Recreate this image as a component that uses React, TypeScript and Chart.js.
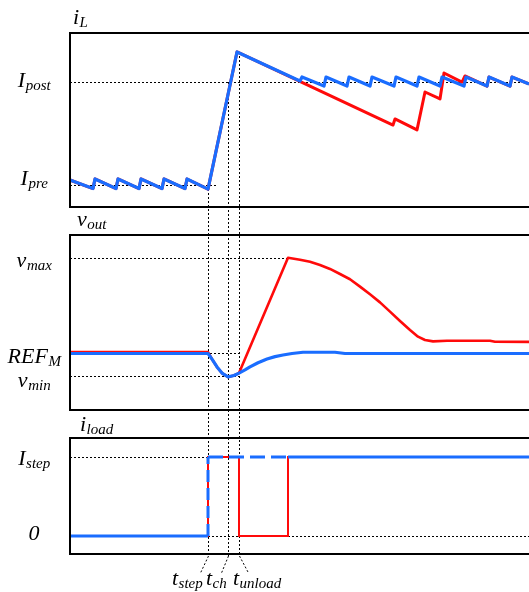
import React, { useEffect, useRef } from 'react';
import { Chart, registerables } from 'chart.js';

Chart.register(...registerables);

// ---------------- data (time in arbitrary units, 0 = left edge of the plots) ----------------
const T_MAX = 459;
const T_STEP = 138;
const T_CH = 158;
const T_UNLOAD = 169;

// Panel 1: inductor current i_L (relative units)
const I_PRE = 12.6;
const I_POST = 71.8;
const I_PEAK = 89.1;

const iLBlueTime = [0, 23, 25, 46, 48, 69, 71, 92, 94, 115, 117, 138, 167, 230, 232, 254, 256, 277, 279, 300, 302, 324, 326, 347, 349, 370, 372, 394, 396, 417, 419, 440, 442, 459];
const iLBlueValue = [15.5, 10.6, 16.1, 10.6, 16.1, 10.6, 16.1, 10.6, 16.1, 10.6, 16.1, 10.3, 89.1, 72.4, 74.7, 69.5, 74.7, 69.5, 74.7, 69.5, 74.7, 69.5, 74.7, 69.5, 74.7, 69.5, 74.7, 69.5, 74.7, 69.5, 74.7, 69.5, 74.7, 70.7];

const iLRedTime = [0, 23, 25, 46, 48, 69, 71, 92, 94, 115, 117, 138, 167, 323, 325, 347, 355, 370, 374, 392, 395, 417, 419, 440, 442, 459];
const iLRedValue = [15.5, 10.6, 16.1, 10.6, 16.1, 10.6, 16.1, 10.6, 16.1, 10.6, 16.1, 10.3, 89.1, 47.1, 50.6, 44.3, 66.1, 62.1, 77.0, 71.8, 75.3, 69.5, 74.7, 69.5, 74.7, 70.7];

// Panel 2: output voltage v_out (relative units)
const V_MAX = 86.9;
const REF_M = 32.6;
const V_MIN = 19.4;

const vOutBlueTime = [0, 138, 142, 147, 152, 158, 164, 169, 175, 180, 188, 197, 205, 213, 222, 233, 265, 275, 459];
const vOutBlueValue = [32.3, 32.3, 29.1, 24.6, 21.1, 18.9, 19.7, 21.1, 22.9, 24.6, 27.0, 29.1, 30.5, 31.4, 32.3, 33.0, 33.0, 32.3, 32.3];

const vOutRedTime = [0, 138, 142, 147, 152, 158, 164, 169, 218, 230, 240, 250, 260, 270, 280, 290, 300, 310, 320, 330, 340, 348, 355, 363, 377, 420, 425, 459];
const vOutRedValue = [33.1, 33.1, 29.1, 24.6, 21.1, 18.9, 19.7, 21.1, 87.0, 85.9, 84.7, 82.9, 80.6, 77.7, 74.7, 70.5, 66.1, 61.5, 56.2, 50.9, 45.7, 41.9, 40.0, 39.2, 39.6, 39.6, 39.0, 38.9];

// Panel 3: load current i_load (0 / I_step)
const I_ZERO = 0;
const I_STEP = 1;

const iLoadBlueTime = [0, 138, 138, 218, 459];
const iLoadBlueValue = [0, 0, 1, 1, 1];
const iLoadRedTime = [0, 138, 138, 169, 169, 218, 218, 459];
const iLoadRedValue = [0, 0, 1, 1, 0, 0, 1, 1];

// Tick labels
const iLTickValues = [I_POST, I_PRE];
const iLTickMain = ['I', 'I'];
const iLTickSub = ['post', 'pre'];
const vOutTickValues = [V_MAX, REF_M, V_MIN];
const vOutTickMain = ['v', 'REF', 'v'];
const vOutTickSub = ['max', 'M', 'min'];
const iLoadTickValues = [I_STEP, I_ZERO];
const iLoadTickMain = ['I', '0'];
const iLoadTickSub = ['step', ''];

const panelTitleMain = ['i', 'v', 'i'];
const panelTitleSub = ['L', 'out', 'load'];

const markerTimes = [T_STEP, T_CH, T_UNLOAD];
const markerTopValues = [I_PRE, I_POST, I_PEAK];
const markerMain = ['t', 't', 't'];
const markerSub = ['step', 'ch', 'unload'];

// ---------------- layout / style ----------------
const W = 529;
const H = 592;
const AREA_TOP = 33;
const AREA_BOTTOM = 554;
const PANELS = [
  { id: 'y1', top: 33, bottom: 207, lo: 0, hi: 100 },
  { id: 'y2', top: 235, bottom: 410, lo: 0, hi: 100 },
  { id: 'y3', top: 438, bottom: 554, lo: -0.228, hi: 1.2405 },
];
const BLUE = '#1a6dff';
const RED = '#ff0a0a';
const MAIN_FONT = 'italic 22px "Liberation Serif", "Times New Roman", serif';
const SUB_FONT = 'italic 15px "Liberation Serif", "Times New Roman", serif';
const SUB_DROP = 3;
const DOT = [2, 2];
const TICK_LABEL_CX = 34;
const TICK_DY = [[5, 0], [9, 10, 11], [8, 4]];
const TITLE_POS = [[73, 24], [77, 226], [80, 431]];
const MARKER_LABEL_X = [172, 206, 233];
const MARKER_LABEL_BASE = 585;
const MARKER_LINE_END = 556;
const MARKER_LEADER = [[-8, 573], [-7, 573], [9, 573]];

const H_GUIDES = [
  { axis: 'y1', value: I_POST, from: 0, to: T_MAX },
  { axis: 'y1', value: I_PRE, from: 0, to: 147 },
  { axis: 'y2', value: V_MAX, from: 0, to: 220 },
  { axis: 'y2', value: REF_M, from: 0, to: 170 },
  { axis: 'y2', value: V_MIN, from: 0, to: 170 },
  { axis: 'y3', value: I_STEP, from: 0, to: T_STEP + 1 },
  { axis: 'y3', value: I_ZERO, from: T_STEP, to: T_MAX },
];

function zip(t: number[], v: number[]) {
  return t.map((x, i) => ({ x, y: v[i] }));
}

function fullRange(p: { top: number; bottom: number; lo: number; hi: number }) {
  const ppu = (p.bottom - p.top) / (p.hi - p.lo);
  return {
    min: p.lo - (AREA_BOTTOM - p.bottom) / ppu,
    max: p.hi + (p.top - AREA_TOP) / ppu,
  };
}

function drawLabel(ctx: CanvasRenderingContext2D, main: string, sub: string, x: number, base: number, center: boolean) {
  ctx.font = MAIN_FONT;
  const wm = ctx.measureText(main).width;
  ctx.font = SUB_FONT;
  const ws = sub ? ctx.measureText(sub).width : 0;
  const sx = center ? x - (wm + ws) / 2 : x;
  ctx.textAlign = 'left';
  ctx.textBaseline = 'alphabetic';
  ctx.fillStyle = '#000';
  ctx.font = MAIN_FONT;
  ctx.fillText(main, sx, base);
  if (sub) {
    ctx.font = SUB_FONT;
    ctx.fillText(sub, sx + wm + 0.5, base + SUB_DROP);
  }
}

const timingPlugin = {
  id: 'timing',
  beforeDatasetsDraw(chart: any) {
    const { ctx, scales } = chart;
    const xs = scales.x;
    ctx.save();
    ctx.strokeStyle = '#000';
    ctx.lineWidth = 1;
    ctx.setLineDash(DOT);
    for (const g of H_GUIDES) {
      const y = Math.round(scales[g.axis].getPixelForValue(g.value)) + 0.5;
      ctx.beginPath();
      ctx.moveTo(Math.round(xs.getPixelForValue(g.from)), y);
      ctx.lineTo(Math.round(xs.getPixelForValue(g.to)), y);
      ctx.stroke();
    }
    markerTimes.forEach((t, i) => {
      const x = Math.round(xs.getPixelForValue(t)) + 0.5;
      const yTop = Math.round(scales.y1.getPixelForValue(markerTopValues[i]));
      ctx.beginPath();
      ctx.moveTo(x, yTop);
      ctx.lineTo(x, MARKER_LINE_END);
      ctx.stroke();
      ctx.beginPath();
      ctx.moveTo(x, MARKER_LINE_END);
      ctx.lineTo(x + MARKER_LEADER[i][0], MARKER_LEADER[i][1]);
      ctx.stroke();
    });
    ctx.restore();
  },
  afterDatasetsDraw(chart: any) {
    const { ctx, scales, chartArea } = chart;
    ctx.save();
    // panel frames
    ctx.strokeStyle = '#000';
    ctx.lineWidth = 2;
    ctx.setLineDash([]);
    for (const p of PANELS) {
      const yT = scales[p.id].getPixelForValue(p.hi);
      const yB = scales[p.id].getPixelForValue(p.lo);
      ctx.strokeRect(chartArea.left, yT, chartArea.right - chartArea.left + 4, yB - yT);
    }
    // tick labels
    const tickSets = [
      { axis: 'y1', values: iLTickValues, main: iLTickMain, sub: iLTickSub },
      { axis: 'y2', values: vOutTickValues, main: vOutTickMain, sub: vOutTickSub },
      { axis: 'y3', values: iLoadTickValues, main: iLoadTickMain, sub: iLoadTickSub },
    ];
    tickSets.forEach((s, k) => {
      s.values.forEach((v, i) => {
        const y = scales[s.axis].getPixelForValue(v);
        drawLabel(ctx, s.main[i], s.sub[i], TICK_LABEL_CX, y + TICK_DY[k][i], true);
      });
    });
    // panel titles
    panelTitleMain.forEach((m, i) => {
      drawLabel(ctx, m, panelTitleSub[i], TITLE_POS[i][0], TITLE_POS[i][1], false);
    });
    // marker labels
    markerMain.forEach((m, i) => {
      drawLabel(ctx, m, markerSub[i], MARKER_LABEL_X[i], MARKER_LABEL_BASE, false);
    });
    ctx.restore();
  },
};

export default function App() {
  const ref = useRef<HTMLCanvasElement | null>(null);

  useEffect(() => {
    if (!ref.current) return;
    const r1 = fullRange(PANELS[0]);
    const r2 = fullRange(PANELS[1]);
    const r3 = fullRange(PANELS[2]);
    const base = { pointRadius: 0, tension: 0, fill: false, borderJoinStyle: 'round' };
    const chart = new Chart(ref.current, {
      type: 'line',
      data: {
        datasets: [
          { ...base, label: 'iL blue', data: zip(iLBlueTime, iLBlueValue), yAxisID: 'y1', borderColor: BLUE, borderWidth: 3.2, order: 1 },
          { ...base, label: 'iL red', data: zip(iLRedTime, iLRedValue), yAxisID: 'y1', borderColor: RED, borderWidth: 3, order: 2 },
          { ...base, label: 'vout blue', data: zip(vOutBlueTime, vOutBlueValue), yAxisID: 'y2', borderColor: BLUE, borderWidth: 3.2, order: 1 },
          { ...base, label: 'vout red', data: zip(vOutRedTime, vOutRedValue), yAxisID: 'y2', borderColor: RED, borderWidth: 2.6, order: 2 },
          {
            ...base,
            label: 'iload blue',
            data: zip(iLoadBlueTime, iLoadBlueValue),
            yAxisID: 'y3',
            borderColor: BLUE,
            borderWidth: 3,
            borderJoinStyle: 'miter',
            order: 1,
            segment: {
              borderDash: (c: any) => (c.p0DataIndex === 1 ? [12, 6] : c.p0DataIndex === 2 ? [15, 6] : undefined),
            },
          },
          { ...base, label: 'iload red', data: zip(iLoadRedTime, iLoadRedValue), yAxisID: 'y3', borderColor: RED, borderWidth: 2, borderJoinStyle: 'miter', order: 2 },
        ] as any,
      },
      options: {
        animation: false,
        responsive: false,
        devicePixelRatio: 1,
        layout: { padding: { left: 70, top: AREA_TOP, right: 0, bottom: H - AREA_BOTTOM } },
        plugins: { legend: { display: false }, tooltip: { enabled: false } },
        events: [],
        scales: {
          x: { type: 'linear', min: 0, max: T_MAX, display: false },
          y1: { type: 'linear', display: false, min: r1.min, max: r1.max },
          y2: { type: 'linear', display: false, min: r2.min, max: r2.max },
          y3: { type: 'linear', display: false, min: r3.min, max: r3.max },
        },
      } as any,
      plugins: [timingPlugin],
    });
    return () => chart.destroy();
  }, []);

  return (
    <div style={{ position: 'absolute', left: 0, top: 0, width: W, height: H, background: '#fff' }}>
      <canvas ref={ref} width={W} height={H} style={{ width: W, height: H, display: 'block' }} />
    </div>
  );
}
